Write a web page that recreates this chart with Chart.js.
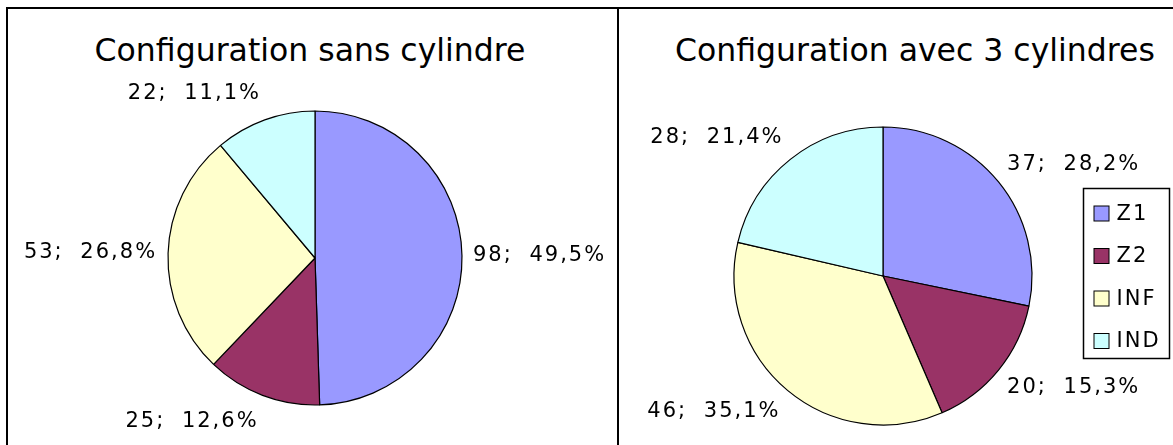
<!DOCTYPE html>
<html>
<head>
<meta charset="utf-8">
<script src="https://cdn.jsdelivr.net/npm/chart.js@4.4.0/dist/chart.umd.min.js"></script>
<style>
  html, body { margin: 0; padding: 0; background: #fff; }
  body { width: 1173px; height: 445px; overflow: hidden; position: relative; font-family: "DejaVu Sans", sans-serif; }
  .panel { position: absolute; top: 7px; height: 460px; border: 2px solid #000; box-sizing: border-box; }
  .title { position: absolute; width: 460px; text-align: center; font-size: 31.5px; line-height: 1; color: #000; white-space: nowrap; }
  canvas { position: absolute; }
</style>
</head>
<body>
<div class="panel" style="left:6px; width:613px;"></div>
<div class="panel" style="left:617px; width:580px;"></div>
<div class="title" id="titleSans" style="left:80px; top:35px;"></div>
<div class="title" id="titleAvec" style="left:675px; top:35px;"></div>
<canvas id="chartSans" width="608" height="435" style="left:8px; top:10px;"></canvas>
<canvas id="chartAvec" width="553" height="435" style="left:620px; top:10px;"></canvas>
<script>
// data
const categories = ['Z1', 'Z2', 'INF', 'IND'];
const sansCylindre = [98, 25, 53, 22];
const avecCylindres = [37, 20, 46, 28];
const sliceColors = ['#9999ff', '#993366', '#ffffcc', '#ccffff'];
const chartTitles = ['Configuration sans cylindre', 'Configuration avec 3 cylindres'];

document.getElementById('titleSans').textContent = chartTitles[0];
document.getElementById('titleAvec').textContent = chartTitles[1];

const labelFont = '21px "DejaVu Sans"';

// "value; pct%" labels outside each slice, Excel style
const pieLabels = {
  id: 'pieLabels',
  afterDatasetsDraw(chart) {
    const ctx = chart.ctx;
    const values = chart.data.datasets[0].data;
    const total = values.reduce((a, b) => a + b, 0);
    ctx.save();
    ctx.font = labelFont;
    ctx.letterSpacing = '2px';
    ctx.wordSpacing = '8px';
    ctx.fillStyle = '#000';
    ctx.textBaseline = 'middle';
    chart.getDatasetMeta(0).data.forEach((arc, i) => {
      const mid = (arc.startAngle + arc.endAngle) / 2;
      const c = Math.cos(mid), s = Math.sin(mid);
      const x = arc.x + c * (arc.outerRadius + 11);
      const y = arc.y + s * (arc.outerRadius + 28);
      ctx.textAlign = c > 0.05 ? 'left' : (c < -0.05 ? 'right' : 'center');
      const pct = (values[i] / total * 100).toFixed(1).replace('.', ',');
      ctx.fillText(values[i] + '; ' + pct + '%', x, y);
    });
    ctx.restore();
  }
};

// boxed legend like the Excel one
const boxLegend = {
  id: 'boxLegend',
  afterDraw(chart, args, opts) {
    if (!opts.show) return;
    const ctx = chart.ctx;
    ctx.save();
    ctx.strokeStyle = '#000';
    ctx.lineWidth = 1.5;
    ctx.strokeRect(opts.x, opts.y, opts.w, opts.h);
    ctx.font = labelFont;
    ctx.letterSpacing = '2px';
    ctx.textBaseline = 'middle';
    ctx.textAlign = 'left';
    chart.data.labels.forEach((lab, i) => {
      const cy = opts.y + 25 + i * 42.5;
      ctx.fillStyle = chart.data.datasets[0].backgroundColor[i];
      ctx.fillRect(opts.x + 10.5, cy - 7.5, 15, 15);
      ctx.lineWidth = 1;
      ctx.strokeRect(opts.x + 10.5, cy - 7.5, 15, 15);
      ctx.fillStyle = '#000';
      ctx.fillText(lab, opts.x + 33, cy + 1);
    });
    ctx.restore();
  }
};

function makePie(id, values, radius, padding, legend) {
  return new Chart(document.getElementById(id), {
    type: 'pie',
    data: {
      labels: categories,
      datasets: [{
        data: values,
        backgroundColor: sliceColors,
        borderColor: '#000',
        borderWidth: 1.2
      }]
    },
    options: {
      responsive: false,
      animation: false,
      devicePixelRatio: 1,
      radius: radius,
      layout: { padding: padding },
      plugins: {
        legend: { display: false },
        tooltip: { enabled: false },
        boxLegend: legend
      }
    },
    plugins: [pieLabels, boxLegend]
  });
}

makePie('chartSans', sansCylindre, 147, { left: 6, right: 0, top: 61, bottom: 0 }, { show: false });
makePie('chartAvec', avecCylindres, 149, { left: 0, right: 27, top: 97, bottom: 0 },
  { show: true, x: 463.5, y: 178.5, w: 86, h: 170 });
</script>
</body>
</html>
